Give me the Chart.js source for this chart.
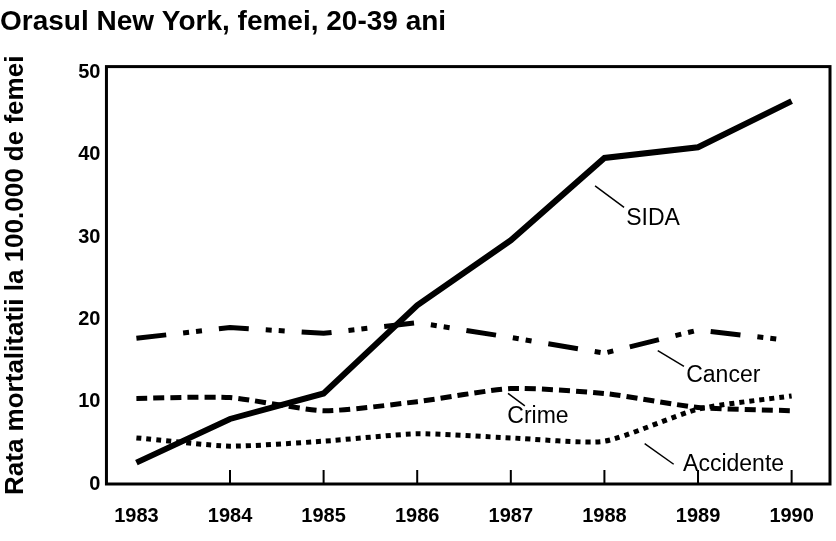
<!DOCTYPE html>
<html>
<head>
<meta charset="utf-8">
<script src="https://cdn.jsdelivr.net/npm/chart.js@4.4.1/dist/chart.umd.min.js"></script>
<style>
  html, body { margin: 0; padding: 0; background: #fff; }
  #wrap { width: 836px; height: 541px; }
</style>
</head>
<body>
<div id="wrap"><canvas id="grafic"></canvas></div>
<script>
const ani = [1983, 1984, 1985, 1986, 1987, 1988, 1989, 1990];
const sida = [2.6, 7.9, 11.0, 21.7, 29.6, 39.6, 40.9, 46.5];
const cancer = [17.7, 19.0, 18.3, 19.6, 17.8, 15.9, 18.7, 17.4];
const crime = [10.4, 10.5, 8.9, 10.0, 11.6, 11.0, 9.3, 8.9];
const accidente = [5.6, 4.6, 5.2, 6.1, 5.6, 5.2, 9.1, 10.7];
const valoriY = [0, 10, 20, 30, 40, 50];

// etichetele de pe grafic, in coordonate de date
const etichete = [
  { text: 'SIDA', x: 1988.52, y: 32.2, de: [1987.90, 36.2], la: [1988.21, 33.6] },
  { text: 'Cancer', x: 1989.27, y: 13.2, de: [1988.57, 16.2], la: [1988.85, 14.3] },
  { text: 'Crime', x: 1987.29, y: 8.2, de: [1986.97, 11.0], la: [1987.15, 9.5] },
  { text: 'Accidente', x: 1989.38, y: 2.3, de: [1988.43, 4.9], la: [1988.74, 2.4] }
];

const puncte = vals => ani.map((a, i) => ({ x: a, y: vals[i] }));
const font = 'Liberation Sans, Arial, Helvetica, sans-serif';

const cadru = {
  id: 'cadru',
  afterDatasetsDraw(chart) {
    const { ctx, chartArea: a, scales: { x, y } } = chart;
    ctx.save();
    ctx.strokeStyle = '#000';
    ctx.lineWidth = 3;
    ctx.strokeRect(a.left, a.top, a.right - a.left, a.bottom - a.top);

    ctx.lineWidth = 2;
    ctx.beginPath();
    x.ticks.forEach(t => {
      if (t.value === ani[0]) return;
      const px = x.getPixelForValue(t.value);
      ctx.moveTo(px, a.bottom);
      ctx.lineTo(px, a.bottom - 14);
    });
    ctx.stroke();

    ctx.fillStyle = '#000';
    ctx.font = '23px ' + font;
    ctx.textAlign = 'center';
    ctx.textBaseline = 'middle';
    ctx.lineWidth = 1.5;
    etichete.forEach(e => {
      ctx.beginPath();
      ctx.moveTo(x.getPixelForValue(e.de[0]), y.getPixelForValue(e.de[1]));
      ctx.lineTo(x.getPixelForValue(e.la[0]), y.getPixelForValue(e.la[1]));
      ctx.stroke();
      ctx.fillText(e.text, x.getPixelForValue(e.x), y.getPixelForValue(e.y));
    });
    ctx.restore();
  }
};

const linie = (label, vals, latime, dash, tension) => ({
  label,
  data: puncte(vals),
  borderColor: '#000',
  borderWidth: latime,
  borderDash: dash,
  borderCapStyle: 'butt',
  pointRadius: 0,
  tension,
  fill: false
});

new Chart(document.getElementById('grafic').getContext('2d'), {
  type: 'line',
  data: {
    datasets: [
      linie('SIDA', sida, 6, [], 0),
      linie('Cancer', cancer, 5, [30, 17, 6, 7, 6, 17], 0),
      linie('Crime', crime, 5, [11, 6], 0.2),
      linie('Accidente', accidente, 5, [5, 5], 0.2)
    ]
  },
  plugins: [cadru],
  options: {
    responsive: true,
    maintainAspectRatio: false,
    animation: false,
    layout: { padding: { top: 5, left: 0, right: 6, bottom: -7 } },
    plugins: {
      legend: { display: false },
      tooltip: { enabled: false },
      title: {
        display: true,
        text: 'Orasul New York, femei, 20-39 ani',
        align: 'start',
        color: '#000',
        font: { family: font, size: 28, weight: 'bold' },
        padding: { top: 0, bottom: 28 }
      }
    },
    scales: {
      x: {
        type: 'linear',
        min: 1982.68,
        max: 1990.41,
        grid: { display: false, drawTicks: false },
        border: { display: false },
        ticks: {
          stepSize: 1,
          includeBounds: false,
          color: '#000',
          padding: 20,
          font: { family: font, size: 20, weight: 'bold' },
          callback: v => String(v)
        }
      },
      y: {
        min: 0,
        max: 50.7,
        grid: { display: false, drawTicks: false },
        border: { display: false },
        afterBuildTicks: s => { s.ticks = valoriY.map(v => ({ value: v })); },
        ticks: {
          color: '#000',
          padding: 6,
          font: { family: font, size: 20, weight: 'bold' }
        },
        title: {
          display: true,
          text: 'Rata mortalitatii la 100.000 de femei',
          color: '#000',
          font: { family: font, size: 26, weight: 'bold' },
          padding: { top: 0, bottom: 41 }
        }
      }
    }
  }
});
</script>
</body>
</html>
